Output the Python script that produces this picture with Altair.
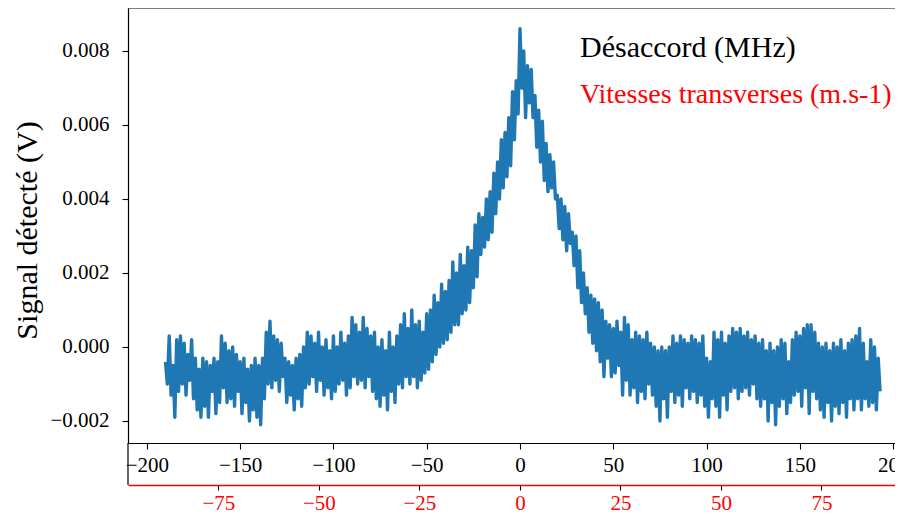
import altair as alt
import pandas as pd

# ---------------- data ----------------
# detuning grid: first sample and spacing (MHz)
x_start = -190.0
x_step = 1.0

# detected signal, in mV, one value per MHz from -190 MHz to +193 MHz
signal_mV = [
    -0.4, -1.0, 0.3, -1.3, -0.5, -1.9, 0.2, -1.2, 0.3, -1.0,      # -190
    0.1, -1.3, -0.2, -0.9, 0.2, -1.4, -0.3, -1.7, -0.6, -1.9,     # -180
    -0.3, -1.6, -0.4, -1.9, -0.5, -1.2, -0.3, -1.8, -0.4, -1.5,   # -170
    0.3, -1.1, 0.1, -1.5, -0.1, -1.4, 0.0, -1.6, -0.2, -1.2,      # -160
    -0.4, -1.8, -0.3, -1.5, -0.6, -2.0, -0.5, -1.7, -0.3, -1.9,   # -150
    -0.5, -2.1, -0.3, -1.4, 0.4, -1.0, 0.7, -1.1, 0.3, -0.9,      # -140
    0.2, -1.2, 0.1, -0.8, -0.3, -1.5, -0.4, -1.3, -0.5, -1.7,     # -130
    -0.3, -1.4, -0.2, -1.6, 0.0, -1.1, 0.4, -1.0, 0.3, -0.8,      # -120
    0.1, -1.2, 0.4, -0.9, 0.0, -1.3, 0.2, -1.1, -0.1, -1.4,       # -110
    0.3, -1.2, 0.0, -1.0, 0.4, -0.9, 0.1, -1.3, 0.3, -1.1,        # -100
    0.8, -0.8, 0.6, -1.0, 0.4, -0.9, 0.8, -1.1, 0.5, -0.8,        # -90
    0.3, -1.2, 0.4, -1.4, 0.0, -1.6, 0.2, -1.3, -0.1, -1.7,       # -80
    0.4, -1.2, 0.0, -1.5, 0.3, -1.0, 0.6, -1.1, 0.9, -0.8,        # -70
    0.5, -1.0, 1.0, -0.8, 0.6, -1.1, 0.7, -0.9, 0.4, -0.7,        # -60
    0.9, -0.6, 1.0, -0.4, 1.4, -0.2, 1.2, 0.0, 1.7, 0.1,          # -50
    1.5, 0.2, 1.8, 0.4, 2.3, 0.6, 2.0, 0.6, 2.5, 0.9,             # -40
    2.2, 1.0, 2.7, 1.2, 2.6, 1.6, 3.3, 1.9, 3.6, 2.5,             # -30
    3.5, 2.7, 4.0, 2.9, 4.2, 3.1, 4.7, 3.6, 5.0, 4.0,             # -20
    5.6, 4.3, 5.8, 4.6, 6.2, 4.9, 6.9, 5.6, 7.2, 6.3,             # -10
    8.6, 7.0, 8.0, 6.2, 7.6, 6.6, 7.5, 6.2, 6.8, 5.4,             # 0
    6.4, 5.0, 6.1, 4.5, 5.5, 4.2, 5.2, 4.3, 5.0, 4.0,             # 10
    4.1, 3.2, 4.0, 2.9, 3.8, 2.6, 3.6, 2.8, 3.1, 2.2,             # 20
    3.0, 1.6, 2.6, 1.2, 2.0, 0.9, 1.6, 0.4, 1.4, 0.1,             # 30
    1.3, -0.1, 1.2, -0.4, 1.0, -0.8, 0.7, -0.3, 0.6, -0.8,        # 40
    0.5, -0.7, 0.7, -0.5, 0.4, -1.3, 0.8, -0.9, 0.6, -1.3,        # 50
    0.2, -1.1, 0.4, -1.5, 0.3, -1.2, 0.2, -1.4, 0.4, -1.0,        # 60
    0.1, -1.3, 0.0, -1.6, -0.1, -2.0, 0.0, -1.4, -0.1, -1.9,      # 70
    0.0, -1.2, 0.3, -1.5, 0.1, -1.3, 0.3, -1.6, 0.2, -1.1,        # 80
    0.1, -1.4, 0.3, -1.2, 0.2, -1.5, 0.1, -1.3, 0.3, -1.6,        # 90
    -0.3, -1.9, -0.4, -1.4, 0.4, -1.6, 0.2, -1.9, 0.4, -1.3,      # 100
    0.1, -1.7, 0.3, -1.2, 0.5, -1.1, 0.4, -1.4, 0.5, -1.2,        # 110
    0.3, -1.1, 0.4, -1.3, 0.2, -1.0, 0.3, -1.4, 0.1, -1.6,        # 120
    0.2, -1.4, -0.1, -2.0, 0.1, -1.5, -0.1, -2.1, 0.0, -1.6,      # 130
    0.2, -1.4, 0.1, -1.8, -0.4, -1.5, 0.2, -1.3, 0.4, -1.2,       # 140
    0.3, -1.6, 0.5, -1.1, 0.6, -1.8, 0.6, -1.2, 0.4, -1.4,        # 150
    0.1, -1.7, 0.0, -1.9, 0.1, -1.5, -0.1, -2.0, 0.1, -1.6,       # 160
    0.0, -1.8, 0.2, -1.5, -0.1, -1.9, 0.1, -1.4, 0.2, -1.7,       # 170
    0.3, -1.4, 0.5, -1.7, 0.1, -1.4, -0.4, -1.6, 0.2, -1.5,       # 180
    0.0, -1.7, -0.3, -1.2,                                        # 190
]

detuning_ticks = [-200, -150, -100, -50, 0, 50, 100, 150, 200]
velocity_ticks = [-75, -50, -25, 0, 25, 50, 75]
signal_ticks = [-0.002, 0.0, 0.002, 0.004, 0.006, 0.008]

label_detuning = "Désaccord (MHz)"
label_velocity = "Vitesses transverses (m.s-1)"
label_signal = "Signal détecté (V)"

# ---------------- chart ----------------
df = pd.DataFrame({
    "x": [x_start + i * x_step for i in range(len(signal_mV))],
    "y": [v / 1000.0 for v in signal_mV],
})
vel_df = pd.DataFrame({"v": velocity_ticks})
one_row = pd.DataFrame({"k": [0]})

W, H = 767, 435
RED_OFFSET = 42
FONT = "Liberation Serif"
MINUS = "replace(datum.label, '-', '\u2212')"

common_axis = dict(
    grid=False, labelFont=FONT, labelFontSize=21, tickWidth=1.1,
    labelFlush=False, labelOverlap=False,
)

line = alt.Chart(df).mark_line(color="#1f77b4", strokeWidth=3.4, strokeJoin="round").encode(
    x=alt.X("x:Q",
            scale=alt.Scale(domain=[-210.1, 201.0], nice=False, zero=False),
            axis=alt.Axis(orient="bottom", values=detuning_ticks, title=None, format="d",
                          labelExpr=MINUS, domainColor="black", domainWidth=1.2,
                          tickColor="black", tickSize=6, labelColor="black",
                          labelPadding=5, **common_axis)),
    y=alt.Y("y:Q",
            scale=alt.Scale(domain=[-0.002595, 0.009162], nice=False, zero=False),
            axis=alt.Axis(values=signal_ticks, format=".3f", labelExpr=MINUS,
                          title=label_signal, titleFont=FONT, titleFontSize=30,
                          titleFontWeight="normal", titleColor="black",
                          titleAngle=270, titleX=-101, titleY=222,
                          titleAlign="center", titleBaseline="middle",
                          domainColor="black", domainWidth=1.2, tickColor="black",
                          tickSize=6, labelColor="black", labelPadding=13,
                          **common_axis)),
)

red_axis = alt.Chart(vel_df).mark_point(opacity=0).encode(
    x=alt.X("v:Q",
            scale=alt.Scale(domain=[-97.5, 93.3], nice=False, zero=False),
            axis=alt.Axis(orient="bottom", offset=RED_OFFSET, values=velocity_ticks,
                          title=None, format="d", labelExpr=MINUS,
                          domainColor="#ff0000", domainWidth=1.6,
                          tickColor="black", tickSize=5, labelColor="#ff0000",
                          labelPadding=2, **common_axis)),
    y=alt.value(0),
)

top_spine = alt.Chart(one_row).mark_rule(color="black", strokeWidth=1.2).encode(
    x=alt.value(0), x2=alt.value(W), y=alt.value(0)
)

left_spine_ext = alt.Chart(one_row).mark_rule(color="black", strokeWidth=1.2).encode(
    x=alt.value(0), y=alt.value(H), y2=alt.value(H + RED_OFFSET)
)

txt1 = alt.Chart(one_row).mark_text(
    align="left", baseline="alphabetic", font=FONT, fontSize=30, color="black"
).encode(x=alt.value(452), y=alt.value(49), text=alt.value(label_detuning))

txt2 = alt.Chart(one_row).mark_text(
    align="left", baseline="alphabetic", font=FONT, fontSize=28, color="red"
).encode(x=alt.value(452), y=alt.value(95), text=alt.value(label_velocity))

chart = alt.layer(line, red_axis, top_spine, left_spine_ext, txt1, txt2).resolve_scale(
    x="independent"
).properties(
    width=W, height=H,
    autosize=alt.AutoSizeParams(type="none"),
    padding={"left": 120, "top": 0, "right": 0, "bottom": 73},
).configure_view(stroke=None)

chart.save("out.html", embed_options={"renderer": "svg", "actions": False})
